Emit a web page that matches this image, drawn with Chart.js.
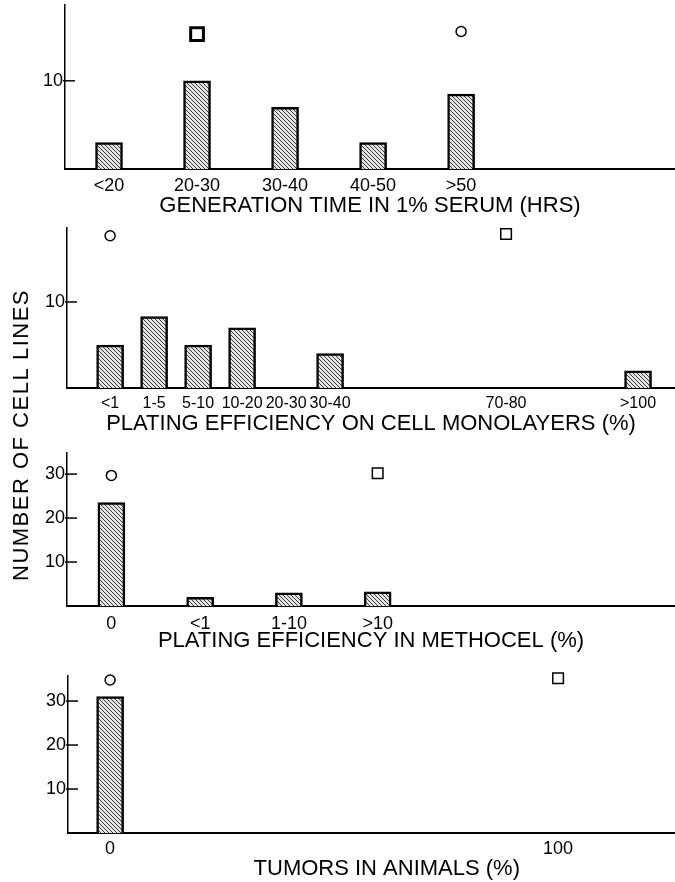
<!DOCTYPE html>
<html>
<head>
<meta charset="utf-8">
<script src="https://cdn.jsdelivr.net/npm/chart.js@4.4.1/dist/chart.umd.min.js"></script>
<style>
  body { margin: 0; background: #fff; }
  #wrap { position: relative; width: 675px; height: 882px; overflow: hidden; }
  canvas { position: absolute; left: 0; }
  #ytitle {
    position: absolute; left: 21px; top: 435px;
    transform: translate(-50%, -50%) rotate(-90deg);
    font: 22px 'Liberation Sans', Arial, sans-serif; letter-spacing: 1.5px;
    white-space: nowrap; color: #000;
  }
</style>
</head>
<body>
<div id="wrap">
  <canvas id="c1" width="675" height="219" style="top:0px"></canvas>
  <canvas id="c2" width="675" height="217" style="top:220px"></canvas>
  <canvas id="c3" width="675" height="214" style="top:440px"></canvas>
  <canvas id="c4" width="675" height="222" style="top:660px"></canvas>
  <div id="ytitle">NUMBER OF CELL LINES</div>
</div>
<script>
// panel 1 - generation time
const genCats = ['<20', '20-30', '30-40', '40-50', '>50'];
const genCounts = [3, 10, 7, 3, 8.5];
const genTicks = [10];
const genSquare = [{ cat: '20-30', y: 15.3 }];
const genCircle = [{ cat: '>50', y: 15.6 }];

// panel 2 - plating efficiency on monolayers
const monoCats = ['<1', '1-5', '5-10', '10-20', '20-30', '30-40', '40-50', '50-60', '60-70', '70-80', '80-90', '90-100', '>100'];
const monoShown = ['<1', '1-5', '5-10', '10-20', '20-30', '30-40', '70-80', '>100'];
const monoCounts = [5, 8.3, 5, 7, 0, 4, 0, 0, 0, 0, 0, 0, 2];
const monoTicks = [10];
const monoSquare = [{ cat: '70-80', y: 17.9 }];
const monoCircle = [{ cat: '<1', y: 17.7 }];

// panel 3 - methocel
const methCats = ['0', '<1', '1-10', '>10'];
const methCounts = [23.5, 2, 3, 3.2];
const methTicks = [10, 20, 30];
const methSquare = [{ cat: '>10', y: 30.2 }];
const methCircle = [{ cat: '0', y: 29.7 }];

// panel 4 - tumors
const tumorPct = [0];
const tumorCounts = [31];
const tumorXTicks = [0, 100];
const tumorTicks = [10, 20, 30];
const tumorSquare = [{ x: 100, y: 35.2 }];
const tumorCircle = [{ x: 0, y: 34.8 }];

Chart.defaults.font.family = "'Liberation Sans', Arial, sans-serif";
Chart.defaults.color = '#000';

function hatch() {
  const c = document.createElement('canvas');
  c.width = 4; c.height = 4;
  const g = c.getContext('2d');
  g.fillStyle = '#e4e4e4';
  g.fillRect(0, 0, 4, 4);
  g.strokeStyle = '#3a3a3a';
  g.lineWidth = 1;
  g.beginPath();
  g.moveTo(0, 0); g.lineTo(4, 4);
  g.moveTo(-2, 2); g.lineTo(2, 6);
  g.moveTo(2, -2); g.lineTo(6, 2);
  g.stroke();
  return g.createPattern(c, 'repeat');
}

// y ticks drawn pointing into the plot
const innerTicks = {
  id: 'innerTicks',
  afterDraw(chart) {
    const ys = chart.scales.y;
    const ctx = chart.ctx;
    ctx.save();
    ctx.strokeStyle = '#000';
    ctx.lineWidth = 1.5;
    ys.ticks.forEach(t => {
      const py = ys.getPixelForValue(t.value);
      ctx.beginPath();
      ctx.moveTo(ys.right - 2, py);
      ctx.lineTo(ys.right + 10, py);
      ctx.stroke();
    });
    ctx.restore();
  }
};

function loadPanel(id, p) {
  new Chart(id, {
    type: 'bar',
    data: {
      datasets: [
        {
          data: p.bars,
          backgroundColor: hatch(),
          borderColor: '#000',
          borderWidth: 2.5,
          barThickness: 27
        },
        {
          type: 'scatter',
          data: p.circles,
          pointStyle: 'circle',
          radius: 5,
          backgroundColor: '#fff',
          borderColor: '#000',
          borderWidth: 1.5,
          clip: false
        },
        {
          type: 'scatter',
          data: p.squares,
          pointStyle: 'rect',
          radius: p.sqR,
          backgroundColor: '#fff',
          borderColor: '#000',
          borderWidth: p.sqW,
          clip: false
        }
      ]
    },
    options: {
      responsive: false,
      animation: false,
      layout: { autoPadding: false, padding: { top: p.top, right: 0, left: 0, bottom: 0 } },
      plugins: { legend: { display: false }, tooltip: { enabled: false } },
      scales: {
        x: {
          type: 'linear',
          offset: false,
          min: p.xmin,
          max: p.xmax,
          afterBuildTicks: s => { s.ticks = p.xticks.map(v => ({ value: v })); },
          afterFit: s => { s.height = p.xh; s.paddingLeft = 0; s.paddingRight = 0; },
          grid: { drawOnChartArea: false, drawTicks: false, color: 'transparent' },
          border: { display: true, color: '#000', width: 2 },
          ticks: {
            autoSkip: false, maxRotation: 0, padding: p.lpad,
            font: { size: p.lsize },
            callback: v => p.xlabel(v)
          },
          title: {
            display: true, text: p.title,
            font: { size: 22 }, padding: { top: 0, bottom: 0 }
          }
        },
        y: {
          min: 0,
          max: p.ymax,
          afterBuildTicks: s => { s.ticks = p.yticks.map(v => ({ value: v })); },
          afterFit: s => { s.width = p.left; s.paddingTop = 0; s.paddingBottom = 0; },
          grid: { drawOnChartArea: false, drawTicks: false, color: 'transparent' },
          border: { display: true, color: '#000', width: 1.5 },
          ticks: { padding: 2, font: { size: 18 } }
        }
      }
    },
    plugins: [innerTicks]
  });
}

const byCat = (cats, list) => list.map(m => ({ x: cats.indexOf(m.cat), y: m.y }));

loadPanel('c1', {
  bars: genCounts.map((v, i) => ({ x: i, y: v })),
  circles: byCat(genCats, genCircle),
  squares: byCat(genCats, genSquare),
  sqR: 9, sqW: 3,
  top: 5, left: 65, xh: 50, lpad: 6, lsize: 18,
  xmin: -0.5, xmax: 6.43,
  xticks: genCats.map((c, i) => i),
  xlabel: v => genCats[v],
  yticks: genTicks, ymax: 18.6,
  title: 'GENERATION TIME IN 1% SERUM (HRS)'
});

loadPanel('c2', {
  bars: monoCounts.map((v, i) => ({ x: i, y: v })),
  circles: byCat(monoCats, monoCircle),
  squares: byCat(monoCats, monoSquare),
  sqR: 7.5, sqW: 1.5,
  top: 8, left: 67, xh: 49, lpad: 6, lsize: 16,
  xmin: -0.98, xmax: 12.84,
  xticks: monoShown.map(c => monoCats.indexOf(c)),
  xlabel: v => monoCats[v],
  yticks: monoTicks, ymax: 18.6,
  title: 'PLATING EFFICIENCY ON CELL MONOLAYERS (%)'
});

loadPanel('c3', {
  bars: methCounts.map((v, i) => ({ x: i, y: v })),
  circles: byCat(methCats, methCircle),
  squares: byCat(methCats, methSquare),
  sqR: 7.5, sqW: 1.5,
  top: 13, left: 67, xh: 48, lpad: 7, lsize: 18,
  xmin: -0.5, xmax: 6.35,
  xticks: methCats.map((c, i) => i),
  xlabel: v => methCats[v],
  yticks: methTicks, ymax: 34.8,
  title: 'PLATING EFFICIENCY IN METHOCEL (%)'
});

loadPanel('c4', {
  bars: tumorCounts.map((v, i) => ({ x: tumorPct[i], y: v })),
  circles: tumorCircle,
  squares: tumorSquare,
  sqR: 7.5, sqW: 1.5,
  top: 16, left: 68, xh: 49, lpad: 5, lsize: 18,
  xmin: -9.4, xmax: 126.1,
  xticks: tumorXTicks,
  xlabel: v => String(v),
  yticks: tumorTicks, ymax: 35.7,
  // the original caption sits a little right of the plot centre
  title: '\u00a0\u00a0\u00a0\u00a0\u00a0TUMORS IN ANIMALS (%)'
});
</script>
</body>
</html>
